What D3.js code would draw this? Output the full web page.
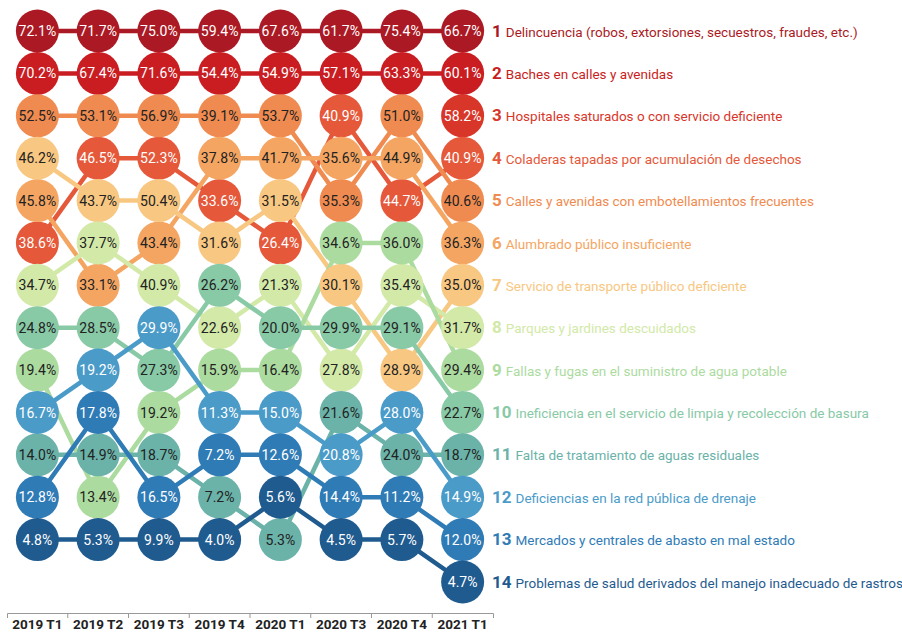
<!DOCTYPE html>
<html>
<head>
<meta charset="utf-8">
<script src="https://cdn.jsdelivr.net/npm/d3@7"></script>
<style>
  body { margin: 0; background: #fff; font-family: Roboto, "Noto Sans", sans-serif; }
</style>
</head>
<body>
<div class="visHolder"></div>
<script>
const periods = ["2019 T1", "2019 T2", "2019 T3", "2019 T4", "2020 T1", "2020 T3", "2020 T4", "2021 T1"];

const problems = [
  "Delincuencia (robos, extorsiones, secuestros, fraudes, etc.)",
  "Baches en calles y avenidas",
  "Hospitales saturados o con servicio deficiente",
  "Coladeras tapadas por acumulación de desechos",
  "Calles y avenidas con embotellamientos frecuentes",
  "Alumbrado público insuficiente",
  "Servicio de transporte público deficiente",
  "Parques y jardines descuidados",
  "Fallas y fugas en el suministro de agua potable",
  "Ineficiencia en el servicio de limpia y recolección de basura",
  "Falta de tratamiento de aguas residuales",
  "Deficiencias en la red pública de drenaje",
  "Mercados y centrales de abasto en mal estado",
  "Problemas de salud derivados del manejo inadecuado de rastros",
];

// posicion (ranking) de cada problema en cada periodo, null = no medido
const ranks = [
  [1, 1, 1, 1, 1, 1, 1, 1],
  [2, 2, 2, 2, 2, 2, 2, 2],
  [null, null, null, null, null, null, null, 3],
  [6, 4, 4, 5, 6, 3, 5, 4],
  [3, 3, 3, 3, 3, 5, 3, 5],
  [5, 7, 6, 4, 4, 4, 4, 6],
  [4, 5, 5, 6, 5, 7, 9, 7],
  [7, 6, 7, 8, 7, 9, 7, 8],
  [9, 12, 10, 9, 9, 6, 6, 9],
  [8, 8, 9, 7, 8, 8, 8, 10],
  [11, 11, 11, 12, 13, 10, 11, 11],
  [10, 9, 8, 10, 10, 11, 10, 12],
  [12, 10, 12, 11, 11, 12, 12, 13],
  [13, 13, 13, 13, 12, 13, 13, 14],
];

// porcentajes
const values = [
  [72.1, 71.7, 75.0, 59.4, 67.6, 61.7, 75.4, 66.7],
  [70.2, 67.4, 71.6, 54.4, 54.9, 57.1, 63.3, 60.1],
  [null, null, null, null, null, null, null, 58.2],
  [38.6, 46.5, 52.3, 33.6, 26.4, 40.9, 44.7, 40.9],
  [52.5, 53.1, 56.9, 39.1, 53.7, 35.3, 51.0, 40.6],
  [45.8, 33.1, 43.4, 37.8, 41.7, 35.6, 44.9, 36.3],
  [46.2, 43.7, 50.4, 31.6, 31.5, 30.1, 28.9, 35.0],
  [34.7, 37.7, 40.9, 22.6, 21.3, 27.8, 35.4, 31.7],
  [19.4, 13.4, 19.2, 15.9, 16.4, 34.6, 36.0, 29.4],
  [24.8, 28.5, 27.3, 26.2, 20.0, 29.9, 29.1, 22.7],
  [14.0, 14.9, 18.7, 7.2, 5.3, 21.6, 24.0, 18.7],
  [16.7, 19.2, 29.9, 11.3, 15.0, 20.8, 28.0, 14.9],
  [12.8, 17.8, 16.5, 7.2, 12.6, 14.4, 11.2, 12.0],
  [4.8, 5.3, 9.9, 4.0, 5.6, 4.5, 5.7, 4.7],
];

const colors = [
  "#ab1a24",
  "#c91d22",
  "#d9362a",
  "#e5583a",
  "#ef8b50",
  "#f4a562",
  "#f8c781",
  "#d2e9a8",
  "#acdba0",
  "#88c9a6",
  "#6bb2a9",
  "#4b9bc9",
  "#2f7bb6",
  "#1f5b8f",
];

createChart();

function createChart() {
  const width = 902;
  const height = 635;
  const radius = 21.5;

  const series = problems.map((name, i) => ({
    name,
    num: i + 1,
    color: colors[i],
    points: periods
      .map((p, j) => ({ period: p, rank: ranks[i][j], value: values[i][j] }))
      .filter((d) => d.rank != null),
  }));

  const xScale = d3.scaleBand().domain(periods).range([7, 493]);
  const yScale = d3.scaleLinear().domain([1, 14]).range([31, 582]);
  const cx = (p) => xScale(p) + xScale.bandwidth() / 2;

  const svg = d3
    .select(".visHolder")
    .append("svg")
    .attr("width", width)
    .attr("height", height);

  // lineas
  const line = d3
    .line()
    .x((d) => cx(d.period))
    .y((d) => yScale(d.rank));

  svg
    .append("g")
    .selectAll("path")
    .data(series.filter((s) => s.points.length > 1))
    .enter()
    .append("path")
    .attr("d", (s) => line(s.points))
    .attr("fill", "none")
    .attr("stroke", (s) => s.color)
    .attr("stroke-width", 4.5);

  // circulos
  const dots = svg
    .append("g")
    .selectAll("g")
    .data(series.flatMap((s) => s.points.map((p) => ({ ...p, color: s.color }))))
    .enter()
    .append("g")
    .attr("transform", (d) => `translate(${cx(d.period)},${yScale(d.rank)})`);

  dots.append("circle").attr("r", radius).attr("fill", (d) => d.color);

  dots
    .append("text")
    .attr("text-anchor", "middle")
    .attr("dy", "0.36em")
    .attr("font-size", 14)
    .attr("fill", (d) => (d3.lab(d.color).l < 64 ? "#ffffff" : "#222222"))
    .text((d) => d3.format(".1f")(d.value) + "%");

  // etiquetas a la derecha (orden de 2021 T1)
  const labels = svg
    .append("g")
    .selectAll("text")
    .data(series)
    .enter()
    .append("text")
    .attr("x", 492)
    .attr("y", (s) => yScale(s.points[s.points.length - 1].rank))
    .attr("dy", "0.35em")
    .attr("fill", (s) => s.color);

  labels
    .append("tspan")
    .attr("font-weight", "bold")
    .attr("font-size", 17)
    .text((s) => s.num);

  labels
    .append("tspan")
    .attr("dx", 4)
    .attr("font-size", 13.5)
    .text((s) => s.name);

  // eje x
  const xAxis = d3.axisBottom(xScale).tickSizeInner(0).tickSizeOuter(5).tickPadding(6);

  const axis = svg
    .append("g")
    .attr("transform", `translate(0, ${height - 22})`)
    .call(xAxis);

  axis.select(".domain").attr("stroke", "#999");
  axis
    .selectAll(".tick text")
    .attr("font-size", 13.5)
    .attr("font-weight", "bold")
    .attr("font-family", "Roboto")
    .attr("fill", "#222");

  axis
    .selectAll(".sep")
    .data(periods.slice(1))
    .enter()
    .append("line")
    .attr("class", "sep")
    .attr("x1", (p) => xScale(p))
    .attr("x2", (p) => xScale(p))
    .attr("y1", 0)
    .attr("y2", 5)
    .attr("stroke", "#999");
}
</script>
</body>
</html>
